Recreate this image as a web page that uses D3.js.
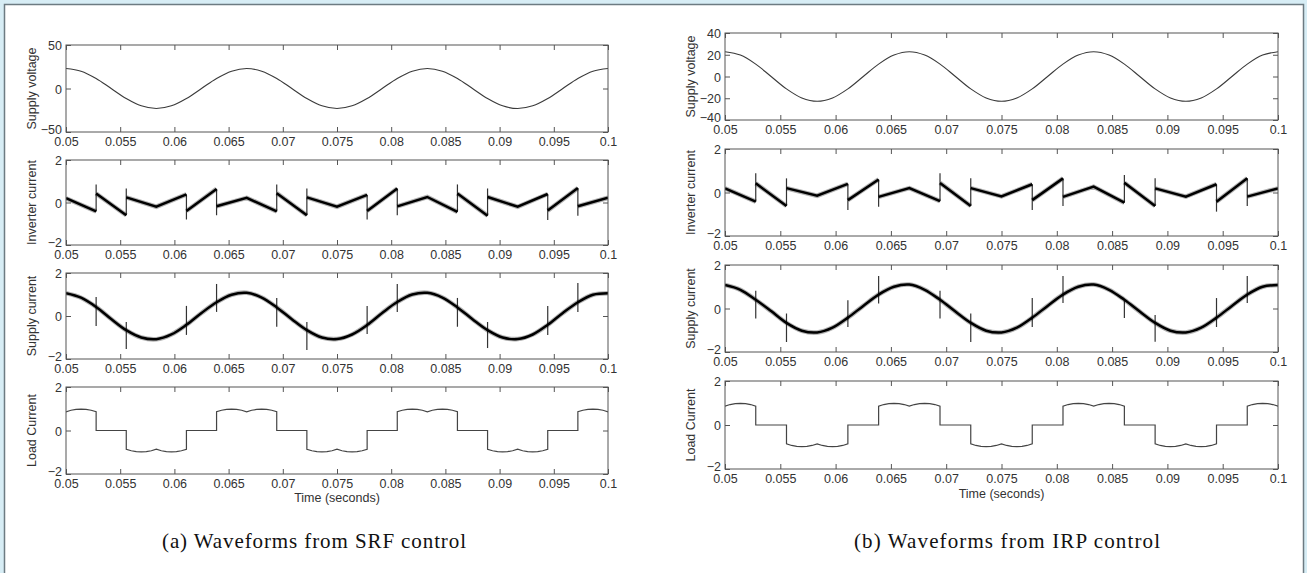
<!DOCTYPE html>
<html>
<head>
<meta charset="utf-8">
<style>
  body { margin: 0; background: #d7edf5; }
  .tick text { font-family: "Liberation Sans", Arial, sans-serif; font-size: 12.5px; fill: #333; }
  .tick line { stroke: #555; }
  .frame { fill: none; stroke: #555; stroke-width: 1; }
  .lab { font-family: "Liberation Sans", Arial, sans-serif; font-size: 12.5px; fill: #333; }
  .caption { font-family: "Liberation Serif", "Times New Roman", serif; font-size: 21px; fill: #111; }
</style>
<script src="https://cdnjs.cloudflare.com/ajax/libs/d3/7.8.5/d3.min.js"></script>
</head>
<body>
<script>
// ---- data ----
const xTicks = [0.05, 0.055, 0.06, 0.065, 0.07, 0.075, 0.08, 0.085, 0.09, 0.095, 0.1];
const xTickLabels = ['0.05', '0.055', '0.06', '0.065', '0.07', '0.075', '0.08', '0.085', '0.09', '0.095', '0.1'];

// samples every 30 degrees of the 60 Hz cycle, starting at t = 0.05
const sampleStep = 1 / 720;

const voltageA = [23.0, 19.9, 11.5, 0, -11.5, -19.9, -23.0, -19.9, -11.5, 0, 11.5, 19.9,
                  23.0, 19.9, 11.5, 0, -11.5, -19.9, -23.0, -19.9, -11.5, 0, 11.5, 19.9,
                  23.0, 19.9, 11.5, 0, -11.5, -19.9, -23.0, -19.9, -11.5, 0, 11.5, 19.9, 23.0];
const voltageB = [22.8, 19.7, 11.4, 0, -11.4, -19.7, -22.8, -19.7, -11.4, 0, 11.4, 19.7,
                  22.8, 19.7, 11.4, 0, -11.4, -19.7, -22.8, -19.7, -11.4, 0, 11.4, 19.7,
                  22.8, 19.7, 11.4, 0, -11.4, -19.7, -22.8, -19.7, -11.4, 0, 11.4, 19.7, 22.8];

const supplyA = [1.06, 0.85, 0.42, -0.14, -0.66, -1.00, -1.08, -0.86, -0.41, 0.14, 0.64, 0.99,
                 1.08, 0.86, 0.40, -0.15, -0.66, -1.00, -1.07, -0.86, -0.42, 0.14, 0.65, 1.00,
                 1.08, 0.86, 0.40, -0.15, -0.66, -1.00, -1.07, -0.86, -0.41, 0.14, 0.64, 0.99, 1.06];
const supplyB = [1.08, 0.86, 0.40, -0.12, -0.66, -1.02, -1.10, -0.88, -0.42, 0.12, 0.64, 1.00,
                 1.10, 0.86, 0.40, -0.14, -0.66, -1.02, -1.10, -0.88, -0.42, 0.12, 0.64, 1.00,
                 1.10, 0.86, 0.40, -0.14, -0.66, -1.02, -1.10, -0.88, -0.42, 0.12, 0.64, 1.00, 1.08];

// switching spikes: [time, from, to]
const supSpikesA = [[0.05278, 0.88, -0.47], [0.05556, -0.28, -1.53], [0.06111, 0.47, -0.88], [0.06389, 1.49, 0.19],
                    [0.06944, 0.84, -0.50], [0.07222, -0.28, -1.58], [0.07778, 0.47, -0.84], [0.08056, 1.49, 0.19],
                    [0.08611, 0.84, -0.50], [0.08889, -0.28, -1.49], [0.09444, 0.47, -0.88], [0.09722, 1.53, 0.19]];
const supSpikesB = [[0.05278, 0.82, -0.46], [0.05556, -0.23, -1.54], [0.06111, 0.38, -0.85], [0.06389, 1.49, 0.23],
                    [0.06944, 0.82, -0.46], [0.07222, -0.23, -1.54], [0.07778, 0.48, -0.85], [0.08056, 1.49, 0.25],
                    [0.08611, 0.39, -0.44], [0.08889, -0.30, -1.53], [0.09444, 0.48, -0.85], [0.09722, 1.49, 0.25]];

// inverter current segments, null = break at a switching instant
const invA = [[0.05, 0.20], [0.05278, -0.42], null,
              [0.05278, 0.42], [0.05556, -0.60], null,
              [0.05556, 0.24], [0.05833, -0.20], [0.06111, 0.38], null,
              [0.06111, -0.40], [0.06389, 0.64], null,
              [0.06389, -0.18], [0.06667, 0.22], [0.06944, -0.42], null,
              [0.06944, 0.44], [0.07222, -0.60], null,
              [0.07222, 0.24], [0.075, -0.20], [0.07778, 0.36], null,
              [0.07778, -0.40], [0.08056, 0.66], null,
              [0.08056, -0.18], [0.08333, 0.26], [0.08611, -0.44], null,
              [0.08611, 0.42], [0.08889, -0.62], null,
              [0.08889, 0.26], [0.09167, -0.20], [0.09444, 0.40], null,
              [0.09444, -0.38], [0.09722, 0.68], null,
              [0.09722, -0.18], [0.1, 0.22]];
const invB = [[0.05, 0.19], [0.05278, -0.42], null,
              [0.05278, 0.42], [0.05556, -0.62], null,
              [0.05556, 0.20], [0.05833, -0.15], [0.06111, 0.40], null,
              [0.06111, -0.35], [0.06389, 0.60], null,
              [0.06389, -0.20], [0.06667, 0.20], [0.06944, -0.40], null,
              [0.06944, 0.44], [0.07222, -0.62], null,
              [0.07222, 0.20], [0.075, -0.18], [0.07778, 0.38], null,
              [0.07778, -0.35], [0.08056, 0.65], null,
              [0.08056, -0.20], [0.08333, 0.27], [0.08611, -0.47], null,
              [0.08611, 0.45], [0.08889, -0.62], null,
              [0.08889, 0.19], [0.09167, -0.19], [0.09444, 0.38], null,
              [0.09444, -0.42], [0.09722, 0.65], null,
              [0.09722, -0.19], [0.1, 0.19]];
const invSpikesA = [[0.05278, -0.42, 0.85], [0.05556, -0.60, 0.66], [0.06111, 0.38, -0.80], [0.06389, 0.64, -0.60],
                    [0.06944, -0.42, 0.85], [0.07222, -0.60, 0.66], [0.07778, 0.36, -0.80], [0.08056, 0.66, -0.60],
                    [0.08611, -0.44, 0.85], [0.08889, -0.62, 0.66], [0.09444, 0.40, -0.82], [0.09722, 0.68, -0.62]];
const invSpikesB = [[0.05278, -0.42, 0.88], [0.05556, -0.62, 0.65], [0.06111, 0.40, -0.80], [0.06389, 0.60, -0.65],
                    [0.06944, -0.40, 0.88], [0.07222, -0.62, 0.65], [0.07778, 0.38, -0.81], [0.08056, 0.65, -0.62],
                    [0.08611, -0.47, 0.80], [0.08889, -0.62, 0.65], [0.09444, 0.38, -0.88], [0.09722, 0.65, -0.62]];

// load current: 120-degree pulses, each with two 60-degree humps (10-degree samples)
const loadEdges = [0.04722, 0.05278, 0.05556, 0.06111, 0.06389, 0.06944, 0.07222, 0.07778, 0.08056, 0.08611, 0.08889, 0.09444, 0.09722, 0.10278];
const loadSigns = [1, -1, 1, -1, 1, -1, 1];
const loadProfile = [0.86, 0.93, 0.97, 0.98, 0.97, 0.93, 0.86, 0.93, 0.97, 0.98, 0.97, 0.93, 0.86];

// ---- layout ----
const w = 1307, h = 573;
const svg = d3.select('body').append('svg')
  .attr('width', w).attr('height', h).style('display', 'block');

svg.append('rect')
  .attr('x', 4.5).attr('y', 4.5).attr('width', 1299).attr('height', 600)
  .attr('fill', '#fff').attr('stroke', '#6d7b82').attr('stroke-width', 1.5);

const panels = [
  { id: 'a', x0: 66, x1: 608, tops: [45, 160, 273, 387], bottoms: [132, 245, 359, 474],
    voltage: voltageA, vTicks: [-50, 0, 50], vLabels: ['\u221250', '0', '50'],
    inv: invA, invSpikes: invSpikesA, supply: supplyA, supSpikes: supSpikesA,
    timeY: 502, caption: '(a)  Waveforms from SRF control', capX: 162, capW: 304 },
  { id: 'b', x0: 725, x1: 1278, tops: [33, 149, 265, 381], bottoms: [120, 236, 352, 469],
    voltage: voltageB, vTicks: [-40, -20, 0, 20, 40], vLabels: ['\u221240', '\u221220', '0', '20', '40'],
    inv: invB, invSpikes: invSpikesB, supply: supplyB, supSpikes: supSpikesB,
    timeY: 498, caption: '(b)  Waveforms from IRP control', capX: 854, capW: 306 }
];

const rowNames = ['Supply voltage', 'Inverter current', 'Supply current', 'Load Current'];
const iTicks = [-2, 0, 2], iLabels = ['\u22122', '0', '2'];

function loadPoints() {
  const pts = [];
  loadSigns.forEach((s, k) => {
    const e0 = loadEdges[2 * k], e1 = loadEdges[2 * k + 1];
    pts.push([e0, 0]);
    loadProfile.forEach((v, j) => pts.push([e0 + j * (e1 - e0) / (loadProfile.length - 1), s * v]));
    pts.push([e1, 0]);
  });
  return pts;
}

panels.forEach(p => {
  const x = d3.scaleLinear().domain([0.05, 0.1]).range([p.x0, p.x1]);

  p.tops.forEach((top, r) => {
    const bottom = p.bottoms[r];
    const yDomain = r === 0 ? d3.extent(p.vTicks) : [-2, 2];
    const yT = r === 0 ? p.vTicks : iTicks;
    const yL = r === 0 ? p.vLabels : iLabels;
    const y = d3.scaleLinear().domain(yDomain).range([bottom, top]);
    const g = svg.append('g');

    const clipId = `clip-${p.id}-${r}`;
    svg.append('clipPath').attr('id', clipId)
      .append('rect').attr('x', p.x0).attr('y', top).attr('width', p.x1 - p.x0).attr('height', bottom - top);
    const plot = g.append('g').attr('clip-path', `url(#${clipId})`);

    const line = d3.line().defined(d => d !== null).x(d => x(d[0])).y(d => y(d[1]));

    if (r === 0) {
      plot.append('path')
        .datum(p.voltage.map((v, i) => [0.05 + i * sampleStep, v]))
        .attr('d', line.curve(d3.curveCatmullRom))
        .attr('fill', 'none').attr('stroke', '#3a3a3a').attr('stroke-width', 1.1);
    } else if (r === 1 || r === 2) {
      const data = r === 1 ? p.inv : p.supply.map((v, i) => [0.05 + i * sampleStep, v]);
      const spikes = r === 1 ? p.invSpikes : p.supSpikes;
      const ln = r === 1 ? line.curve(d3.curveLinear) : line.curve(d3.curveCatmullRom);
      plot.selectAll('line.spike').data(spikes).join('line')
        .attr('class', 'spike')
        .attr('x1', d => x(d[0])).attr('x2', d => x(d[0]))
        .attr('y1', d => y(d[1])).attr('y2', d => y(d[2]))
        .attr('stroke', '#333').attr('stroke-width', 1.2);
      plot.append('path').datum(data).attr('d', ln)
        .attr('fill', 'none').attr('stroke', '#000').attr('stroke-opacity', 0.3).attr('stroke-width', 4.6);
      plot.append('path').datum(data).attr('d', ln)
        .attr('fill', 'none').attr('stroke', '#000').attr('stroke-width', 2.5);
    } else {
      plot.append('path').datum(loadPoints())
        .attr('d', line.curve(d3.curveLinear))
        .attr('fill', 'none').attr('stroke', '#444').attr('stroke-width', 1.2);
    }

    // axes, ticks inside on all four sides
    g.append('g').attr('transform', `translate(0,${bottom})`)
      .call(d3.axisBottom(x).tickValues(xTicks).tickFormat((d, i) => xTickLabels[i])
        .tickSizeInner(-5).tickSizeOuter(0).tickPadding(5))
      .call(a => a.select('.domain').remove());
    g.append('g').attr('transform', `translate(0,${top})`)
      .call(d3.axisTop(x).tickValues(xTicks).tickFormat('').tickSizeInner(-5).tickSizeOuter(0))
      .call(a => a.select('.domain').remove());
    g.append('g').attr('transform', `translate(${p.x0},0)`)
      .call(d3.axisLeft(y).tickValues(yT).tickFormat((d, i) => yL[i])
        .tickSizeInner(-5).tickSizeOuter(0).tickPadding(4))
      .call(a => a.select('.domain').remove())
      .call(a => a.selectAll('text').attr('dy', (d, i) => i === 0 ? '0.1em' : '0.36em'));
    g.append('g').attr('transform', `translate(${p.x1},0)`)
      .call(d3.axisRight(y).tickValues(yT).tickFormat('').tickSizeInner(-5).tickSizeOuter(0))
      .call(a => a.select('.domain').remove());

    g.append('rect').attr('class', 'frame')
      .attr('x', p.x0).attr('y', top).attr('width', p.x1 - p.x0).attr('height', bottom - top);

    g.append('text').attr('class', 'lab')
      .attr('transform', `translate(${p.x0 - 33},${(top + bottom) / 2}) rotate(-90)`)
      .attr('text-anchor', 'middle').attr('dominant-baseline', 'middle')
      .text(rowNames[r]);
  });

  svg.append('text').attr('class', 'lab')
    .attr('x', (p.x0 + p.x1) / 2).attr('y', p.timeY).attr('text-anchor', 'middle')
    .text('Time (seconds)');

  svg.append('text').attr('class', 'caption')
    .attr('x', p.capX).attr('y', 548)
    .attr('textLength', p.capW).attr('lengthAdjust', 'spacing')
    .text(p.caption);
});
</script>
</body>
</html>
